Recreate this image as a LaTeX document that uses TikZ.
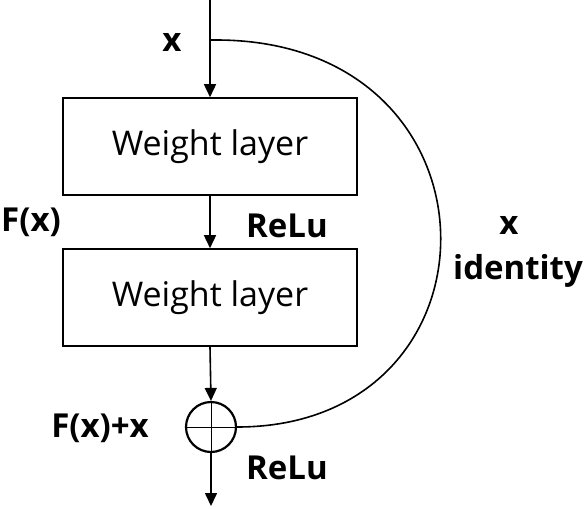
\documentclass[tikz,border=0pt]{standalone}
\usepackage{fontspec}
\setmainfont{Open Sans}
\usetikzlibrary{arrows.meta}
\begin{document}
\begin{tikzpicture}[x=1pt,y=-1pt,
  line width=1.6pt,
  arr/.style={-{Triangle[length=13pt,width=12pt]}},
  layerbox/.style={draw,minimum width=294pt,minimum height=97pt,inner sep=0pt,font=\fontsize{34}{38}\selectfont},
  lbl/.style={font=\fontsize{33}{37}\selectfont\bfseries,inner sep=0pt},
  sumnode/.style={draw,circle,minimum size=50pt,inner sep=0pt,line width=2.2pt}]
\useasboundingbox (0,0) rectangle (585,508);
\coordinate (top) at (210,0);
\coordinate (split) at (210,40);
\coordinate (arcstart) at (216,40);
\node[layerbox] (w1) at (210,146.5) {Weight layer};
\node[layerbox] (w2) at (210,297.5) {Weight layer};
\node[sumnode] (plus) at (211,427) {};
\coordinate (bot) at (211,506);
\draw[arr] (top) -- (w1.north);
\draw[arr] (w1.south) -- (w2.north);
\draw[arr] (w2.south) -- (plus.north);
\draw[arr] (plus.south) -- (bot);
\draw[line width=1pt] (plus.north) -- (plus.south);
\draw[line width=1pt] (plus.west) -- (plus.east);
\draw (split) -- (arcstart) .. controls (512,40) and (512,427) .. (plus.east);
\node[lbl] (lx) at (172,42) {x};
\node[lbl] (lfx) at (31,222) {F(x)};
\node[lbl] (lrelu1) at (287,226) {ReLu};
\node[lbl] (lx2) at (509,225) {x};
\node[lbl] (lid) at (518,271) {identity};
\node[lbl] (lsum) at (100,428) {F(x)+x};
\node[lbl] (lrelu2) at (287,468) {ReLu};
\end{tikzpicture}
\end{document}
